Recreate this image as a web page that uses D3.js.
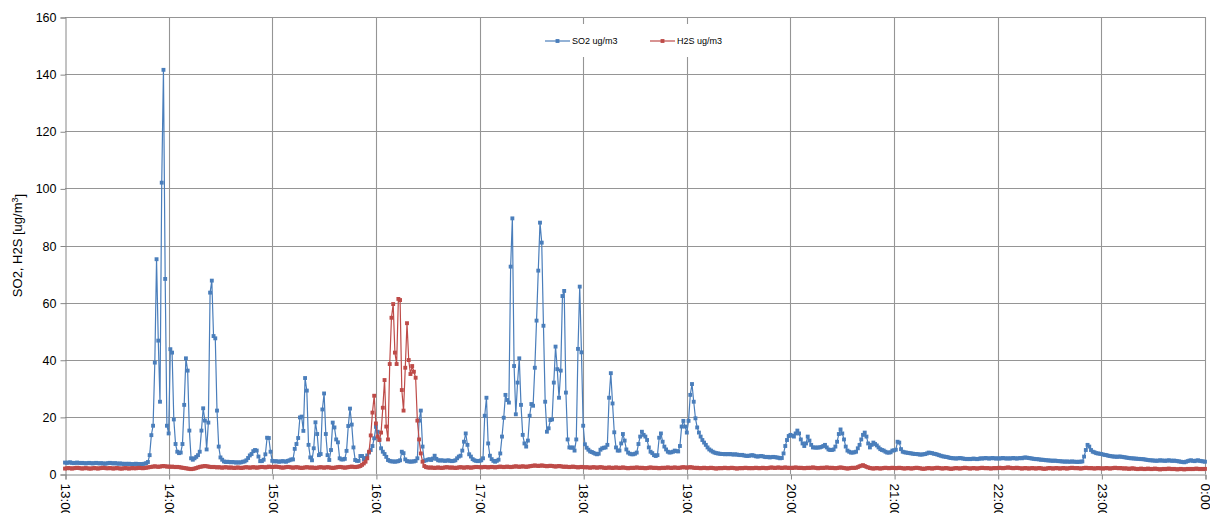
<!DOCTYPE html>
<html>
<head>
<meta charset="utf-8">
<script src="https://cdnjs.cloudflare.com/ajax/libs/d3/7.8.5/d3.min.js"></script>
<style>
	body { margin: 0; background: #fff; }
	text { font-family: 'Liberation Sans', Arial, sans-serif; fill: #000; }
</style>
</head>
<body>
<div id="chart"></div>
<script>
// one array per hour, one value per minute (ug/m3)
var so2_13 = [4.0,3.9,4.0,4.1,3.9,3.8,3.9,4.0,3.9,3.8,
	3.9,3.8,3.7,3.8,3.9,3.8,3.7,3.8,3.9,3.8,
	3.7,3.8,3.7,3.6,3.7,3.8,3.9,3.8,3.7,3.8,
	3.7,3.6,3.7,3.6,3.5,3.6,3.5,3.6,3.5,3.4,
	3.5,3.6,3.5,3.5,3.4,3.5,3.6,3.8,4.2,6.6,
	13.6,16.9,39.0,75.2,46.7,25.3,102.0,141.5,68.3,16.9];
var so2_14 = [14.2,43.7,42.5,19.1,10.5,7.8,7.3,7.5,10.5,24.2,
	40.5,36.2,15.2,5.5,5.0,5.5,6.0,6.6,7.8,15.2,
	23.0,18.7,8.6,18.0,63.5,67.7,48.3,47.5,22.2,9.6,
	5.8,5.0,4.4,4.2,4.3,4.2,4.1,4.2,4.1,4.0,
	4.1,4.0,4.1,4.3,4.4,4.8,5.6,6.5,7.0,8.0,
	8.4,8.2,6.1,4.5,4.5,5.0,6.9,12.7,12.6,7.8];
var so2_15 = [4.6,4.4,4.5,4.4,4.3,4.4,4.5,4.4,4.3,4.6,
	4.8,5.1,5.1,8.8,10.5,12.6,19.8,20.1,15.1,33.6,
	29.2,10.2,5.8,4.8,9.0,18.1,14.0,6.6,7.0,22.6,
	28.2,14.0,6.6,4.9,8.4,18.0,16.3,12.1,11.1,5.5,
	5.1,5.1,5.3,8.1,16.8,22.9,17.3,9.3,4.9,4.6,
	4.6,6.3,6.3,5.1,5.6,6.5,7.5,8.4,9.8,12.5];
var so2_16 = [16.5,14.8,12.1,9.0,7.8,7.0,6.0,4.9,4.6,4.4,
	4.4,4.3,4.4,4.5,4.8,7.8,7.3,5.1,4.5,4.4,
	4.3,4.4,4.4,4.6,5.5,18.7,22.2,9.6,4.6,4.8,
	5.0,5.2,4.9,5.4,6.4,5.3,4.8,4.7,4.8,4.7,
	4.6,4.7,4.8,4.6,4.5,4.6,4.8,5.5,6.1,6.4,
	8.2,11.3,14.2,10.2,6.9,6.1,5.2,4.8,4.6,4.5];
var so2_17 = [4.6,4.8,5.5,20.4,26.7,10.7,6.4,5.2,4.6,4.3,
	4.6,5.0,7.2,13.1,19.7,27.7,25.9,25.0,72.6,89.5,
	37.8,20.9,32.0,40.5,24.2,13.7,10.7,9.6,11.7,20.4,
	24.5,23.9,37.2,53.7,71.2,88.0,81.0,51.9,25.3,14.8,
	16.0,18.9,19.1,32.0,44.6,36.7,26.7,36.2,62.3,64.1,
	28.5,12.1,9.3,9.2,9.3,8.2,12.1,43.8,65.6,42.6];
var so2_18 = [16.9,10.4,9.2,8.5,7.9,7.7,7.4,7.1,6.9,7.1,
	8.5,9.0,9.2,9.3,10.2,26.7,35.3,24.7,14.6,9.3,
	8.2,8.2,10.7,14.0,11.7,8.6,7.5,7.1,6.9,6.9,
	7.1,7.5,10.5,13.1,14.8,13.7,13.1,11.9,9.3,7.8,
	7.3,6.6,6.3,6.6,12.7,14.2,11.3,9.6,8.6,7.8,
	7.5,7.6,7.8,8.2,8.0,7.9,9.8,16.6,18.6,16.6];
var so2_19 = [14.5,18.6,27.7,31.5,25.3,19.5,16.3,14.5,13.1,11.9,
	11.0,10.2,9.3,8.6,8.2,7.8,7.5,7.3,7.2,7.1,
	7.0,7.0,6.9,7.0,6.9,7.0,6.9,6.8,6.9,6.8,
	6.7,6.6,6.7,6.5,6.4,6.3,6.4,6.5,6.6,6.4,
	6.2,6.1,6.2,6.3,6.2,6.0,5.9,6.0,5.8,5.9,
	6.0,5.9,5.8,5.7,5.5,5.6,7.2,9.8,11.9,13.3];
var so2_20 = [13.7,13.4,13.1,14.2,15.2,14.2,12.1,10.7,9.8,10.7,
	13.1,11.7,10.2,9.3,9.3,9.2,9.3,9.3,9.5,9.8,
	10.2,9.3,8.6,8.4,8.4,8.6,9.6,11.3,14.0,15.6,
	14.2,12.1,9.6,8.2,7.8,7.5,7.5,7.6,7.8,9.0,
	10.2,12.1,13.7,14.5,13.1,10.7,9.3,10.2,11.0,10.5,
	10.0,9.3,8.7,8.4,8.2,7.8,7.5,7.5,7.6,8.2];
var so2_21 = [8.3,8.5,11.3,11.0,8.7,7.8,7.6,7.5,7.4,7.3,
	7.2,7.1,7.0,7.0,6.9,6.8,6.8,6.9,7.0,7.2,
	7.5,7.4,7.3,7.1,7.0,6.8,6.6,6.4,6.2,6.1,
	6.0,5.9,5.7,5.6,5.5,5.5,5.4,5.5,5.6,5.5,
	5.4,5.3,5.2,5.3,5.2,5.3,5.4,5.3,5.2,5.3,
	5.5,5.4,5.5,5.6,5.5,5.4,5.5,5.6,5.5,5.4];
var so2_22 = [5.5,5.4,5.5,5.6,5.5,5.4,5.5,5.4,5.5,5.6,
	5.5,5.4,5.5,5.6,5.5,5.7,5.8,5.7,5.6,5.5,
	5.4,5.3,5.2,5.2,5.1,5.0,5.0,4.9,4.8,4.8,
	4.7,4.7,4.6,4.7,4.6,4.5,4.5,4.4,4.4,4.3,
	4.4,4.3,4.3,4.4,4.3,4.3,4.2,4.3,4.3,4.4,
	6.1,8.4,10.2,9.6,8.4,7.8,7.6,7.3,7.2,7.1];
var so2_23 = [7.0,6.8,6.7,6.6,6.4,6.3,6.2,6.1,6.1,6.0,
	6.1,6.1,6.0,5.9,5.8,5.7,5.6,5.5,5.5,5.4,
	5.4,5.3,5.3,5.2,5.2,5.1,5.0,4.9,4.8,4.8,
	4.7,4.7,4.6,4.7,4.8,4.7,4.7,4.6,4.7,4.8,
	4.7,4.6,4.7,4.6,4.5,4.4,4.3,4.2,4.1,4.3,
	4.5,4.7,4.8,4.6,4.5,4.7,4.8,4.6,4.5,4.4,4.3];

var h2s_13 = [1.9,2.0,2.1,2.0,1.9,2.0,2.1,2.2,2.1,2.0,
	1.9,2.0,2.1,2.0,1.9,1.9,2.0,2.1,2.0,1.9,
	2.0,2.1,2.2,2.1,2.0,2.0,2.1,2.0,1.9,2.0,
	2.1,2.0,1.9,1.9,2.0,2.1,2.0,1.9,2.0,2.1,
	2.0,2.0,2.1,2.2,2.1,2.0,2.1,2.2,2.3,2.4,
	2.5,2.6,2.7,2.6,2.5,2.6,2.7,2.8,2.7,2.6];
var h2s_14 = [2.6,2.5,2.6,2.5,2.4,2.5,2.4,2.3,2.2,2.1,
	2.0,1.9,1.8,1.7,1.8,1.9,2.1,2.3,2.5,2.6,
	2.7,2.8,2.7,2.6,2.5,2.4,2.5,2.4,2.3,2.4,
	2.3,2.2,2.3,2.4,2.3,2.2,2.3,2.2,2.1,2.2,
	2.3,2.2,2.1,2.2,2.3,2.4,2.3,2.2,2.3,2.4,
	2.3,2.2,2.3,2.4,2.5,2.4,2.3,2.4,2.6,2.5];
var h2s_15 = [2.4,2.5,2.6,2.5,2.4,2.3,2.2,2.3,2.4,2.5,
	2.4,2.3,2.2,2.3,2.4,2.3,2.2,2.1,2.2,2.3,
	2.4,2.3,2.2,2.3,2.2,2.1,2.2,2.3,2.4,2.3,
	2.2,2.3,2.4,2.3,2.2,2.1,2.2,2.3,2.4,2.5,
	2.4,2.3,2.2,2.3,2.4,2.5,2.6,2.5,2.4,2.5,
	2.6,2.8,3.2,3.7,4.3,5.5,7.8,13.5,21.5,27.4];
var h2s_16 = [17.7,13.1,11.9,14.5,23.2,32.9,16.6,12.1,38.5,54.7,
	59.5,42.5,38.5,61.3,60.9,29.4,22.2,37.2,52.8,39.9,
	35.0,37.8,35.8,33.7,18.7,12.1,7.2,4.3,2.8,2.4,
	2.3,2.2,2.3,2.2,2.1,2.2,2.3,2.2,2.1,2.2,
	2.3,2.4,2.3,2.2,2.3,2.2,2.1,2.2,2.3,2.4,
	2.3,2.2,2.3,2.4,2.3,2.2,2.3,2.4,2.5,2.4];
var h2s_17 = [2.4,2.3,2.4,2.5,2.4,2.3,2.4,2.5,2.4,2.3,
	2.4,2.5,2.6,2.5,2.4,2.5,2.6,2.5,2.4,2.5,
	2.6,2.7,2.6,2.5,2.6,2.7,2.6,2.5,2.6,2.7,
	2.8,2.9,3.0,2.9,2.8,2.9,3.0,2.9,2.8,2.7,
	2.8,2.9,2.8,2.7,2.6,2.7,2.8,2.7,2.6,2.5,
	2.6,2.5,2.4,2.5,2.6,2.5,2.4,2.3,2.4,2.5];
var h2s_18 = [2.4,2.3,2.4,2.3,2.2,2.3,2.4,2.3,2.2,2.3,
	2.4,2.3,2.2,2.1,2.2,2.3,2.2,2.1,2.2,2.3,
	2.2,2.1,2.2,2.3,2.2,2.1,2.0,2.1,2.2,2.1,
	2.2,2.3,2.2,2.1,2.2,2.1,2.0,2.1,2.2,2.3,
	2.2,2.1,2.2,2.1,2.0,2.1,2.2,2.1,2.2,2.3,
	2.2,2.1,2.2,2.3,2.2,2.1,2.2,2.3,2.4,2.3];
var h2s_19 = [2.2,2.3,2.4,2.3,2.2,2.1,2.2,2.1,2.0,2.1,
	2.2,2.1,2.0,2.1,2.2,2.1,2.0,1.9,2.0,2.1,
	2.0,2.1,2.2,2.1,2.0,2.1,2.2,2.1,2.0,1.9,
	2.0,2.1,2.0,2.1,2.2,2.1,2.0,2.1,2.0,2.1,
	2.2,2.1,2.0,2.1,2.2,2.1,2.0,2.1,2.2,2.3,
	2.2,2.1,2.2,2.3,2.2,2.1,2.2,2.3,2.2,2.1];
var h2s_20 = [2.2,2.1,2.2,2.3,2.2,2.1,2.2,2.1,2.0,2.1,
	2.2,2.1,2.2,2.3,2.2,2.1,2.0,2.1,2.2,2.1,
	2.2,2.3,2.2,2.1,2.2,2.1,2.0,2.1,2.2,2.3,
	2.2,2.1,2.0,1.9,2.0,2.1,2.2,2.1,2.2,2.4,
	2.7,2.9,3.1,2.8,2.5,2.3,2.1,2.0,1.9,2.0,
	2.1,2.0,1.9,2.0,2.1,2.2,2.1,2.0,2.1,2.2];
var h2s_21 = [2.1,2.0,2.1,2.2,2.1,2.0,1.9,2.0,2.1,2.0,
	1.9,2.0,2.1,2.2,2.1,2.0,1.9,1.8,1.9,2.0,
	2.1,2.0,1.9,2.0,2.1,2.2,2.1,2.0,1.9,2.0,
	2.1,2.0,1.9,1.8,1.9,2.0,2.1,2.0,1.9,2.0,
	2.1,2.2,2.1,2.0,1.9,2.0,2.1,2.0,1.9,2.0,
	2.1,2.2,2.1,2.0,2.1,2.0,1.9,2.0,2.1,2.0];
var h2s_22 = [2.1,2.2,2.1,2.0,2.1,2.2,2.3,2.2,2.1,2.0,
	2.1,2.2,2.1,2.0,1.9,2.0,2.1,2.0,1.9,2.0,
	2.1,2.0,1.9,2.0,2.1,2.0,1.9,1.8,1.9,2.0,
	2.1,2.0,1.9,2.0,2.1,2.0,1.9,2.0,2.1,2.0,
	1.9,2.0,2.1,2.2,2.1,2.0,2.1,2.0,1.9,2.0,
	2.1,2.2,2.1,2.0,2.1,2.0,1.9,2.0,2.1,2.0];
var h2s_23 = [2.0,1.9,2.0,2.1,2.0,1.9,2.0,2.1,2.2,2.1,
	2.0,2.1,2.0,1.9,2.0,1.9,1.8,1.9,2.0,1.9,
	1.8,1.7,1.8,1.9,1.8,1.7,1.8,1.9,1.8,1.7,
	1.8,1.9,1.8,1.7,1.6,1.7,1.8,1.7,1.8,1.9,
	1.8,1.7,1.8,1.7,1.6,1.7,1.8,1.7,1.6,1.7,
	1.8,1.7,1.8,1.7,1.8,1.9,1.8,1.7,1.8,1.7,1.8];

var xTickLabels = ['13:00','14:00','15:00','16:00','17:00','18:00','19:00','20:00','21:00','22:00','23:00','0:00'];
var yTicks = [0, 20, 40, 60, 80, 100, 120, 140, 160];
var seriesNames = ['SO2 ug/m3', 'H2S ug/m3'];
var seriesColors = ['#4a7ebb', '#be4b48'];

var so2 = [].concat(so2_13, so2_14, so2_15, so2_16, so2_17, so2_18, so2_19, so2_20, so2_21, so2_22, so2_23);
var h2s = [].concat(h2s_13, h2s_14, h2s_15, h2s_16, h2s_17, h2s_18, h2s_19, h2s_20, h2s_21, h2s_22, h2s_23);

var width = 1210;
var height = 513;
var plot = {left: 65, right: 1205, top: 17, bottom: 474};
var start = new Date(2000, 0, 1, 13, 0);
var end = d3.timeHour.offset(start, 11);
var hourTicks = d3.timeHour.range(start, d3.timeMinute.offset(end, 1));

var x = d3.scaleTime().domain([start, end]).range([plot.left, plot.right]);
var y = d3.scaleLinear().domain([0, 160]).range([plot.bottom, plot.top]);

var svg = d3.select('#chart')
	.append('svg')
	.attr('width', width)
	.attr('height', height);

//gridlines
var grid = svg.append('g').attr('stroke', '#959595').attr('stroke-width', 1.1);
grid.selectAll('line.h')
	.data(yTicks.slice(1))
	.enter()
	.append('line')
	.attr('class', 'h')
	.attr('x1', plot.left).attr('x2', plot.right)
	.attr('y1', function (d) { return Math.round(y(d)) + 0.5; })
	.attr('y2', function (d) { return Math.round(y(d)) + 0.5; });
grid.selectAll('line.v')
	.data(hourTicks.slice(1))
	.enter()
	.append('line')
	.attr('class', 'v')
	.attr('y1', plot.top).attr('y2', plot.bottom)
	.attr('x1', function (d) { return Math.round(x(d)) + 0.5; })
	.attr('x2', function (d) { return Math.round(x(d)) + 0.5; });

//legend background hides gridlines behind it
svg.append('rect')
	.attr('x', 532).attr('y', 24)
	.attr('width', 205).attr('height', 33)
	.attr('fill', '#fff');

//axes
var yAxis = svg.append('g')
	.attr('transform', 'translate(' + (plot.left + 0.5) + ',0.5)')
	.call(d3.axisLeft(y).tickValues(yTicks).tickSize(5).tickPadding(4));
var xAxis = svg.append('g')
	.attr('transform', 'translate(0.5,' + (plot.bottom + 0.5) + ')')
	.call(d3.axisBottom(x).tickValues(hourTicks).tickSize(5)
		.tickFormat(function (d, i) { return xTickLabels[i]; }));

[yAxis, xAxis].forEach(function (ax) {
	ax.select('.domain').attr('stroke', '#868686');
	ax.selectAll('.tick line').attr('stroke', '#868686');
	ax.selectAll('.tick text').attr('fill', '#000');
});
yAxis.selectAll('.tick text').style('font-size', '12.5px');
xAxis.selectAll('.tick text')
	.style('font-size', '13.5px')
	.attr('y', 0)
	.attr('x', 9)
	.attr('dy', '0.35em')
	.attr('transform', 'rotate(90)')
	.style('text-anchor', 'start');

//y title
var title = svg.append('text')
	.attr('transform', 'translate(22,' + ((plot.top + plot.bottom) / 2) + ') rotate(-90)')
	.attr('text-anchor', 'middle')
	.style('font-size', '13px');
title.append('tspan').text('SO2, H2S [ug/m');
title.append('tspan').text('3').attr('dy', '-0.45em').style('font-size', '9px');
title.append('tspan').text(']').attr('dy', '0.45em');

//series
var series = [so2, h2s];
var line = d3.line()
	.x(function (d, i) { return x(d3.timeMinute.offset(start, i)); })
	.y(function (d) { return y(d); });
var marker = d3.symbol().type(d3.symbolSquare).size(15);

series.forEach(function (values, k) {
	var g = svg.append('g');
	g.append('path')
		.datum(values)
		.attr('d', line)
		.attr('fill', 'none')
		.attr('stroke', seriesColors[k])
		.attr('stroke-width', 1.2)
		.attr('stroke-linejoin', 'round');
	g.selectAll('path.pt')
		.data(values)
		.enter()
		.append('path')
		.attr('class', 'pt')
		.attr('d', marker)
		.attr('fill', seriesColors[k])
		.attr('transform', function (d, i) {
			return 'translate(' + x(d3.timeMinute.offset(start, i)) + ',' + y(d) + ')';
		});
});

//legend
var legend = svg.append('g').attr('transform', 'translate(545,41)');
var item = legend.selectAll('g.item')
	.data(seriesNames)
	.enter()
	.append('g')
	.attr('class', 'item')
	.attr('transform', function (d, i) { return 'translate(' + (i * 105) + ',0)'; });
item.append('line')
	.attr('x1', 0).attr('x2', 25)
	.attr('stroke', function (d, i) { return seriesColors[i]; })
	.attr('stroke-width', 1.2);
item.append('path')
	.attr('d', marker)
	.attr('transform', 'translate(12.5,0)')
	.attr('fill', function (d, i) { return seriesColors[i]; });
item.append('text')
	.text(function (d) { return d; })
	.attr('x', 27)
	.attr('dy', '0.35em')
	.style('font-size', '9px');
</script>
</body>
</html>
